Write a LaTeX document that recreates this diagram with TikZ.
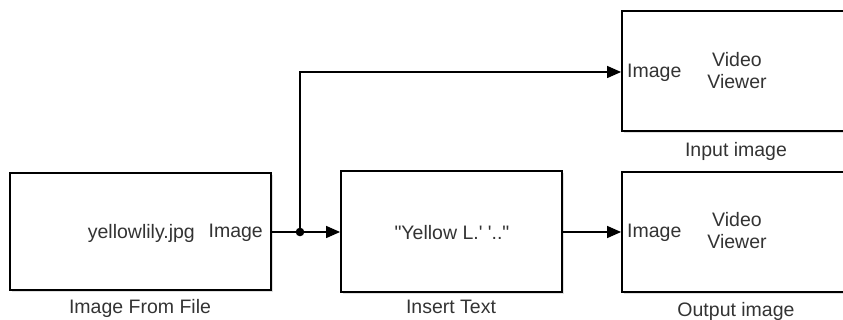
\documentclass[tikz,border=0pt]{standalone}
\usepackage{fontspec}
\setmainfont{Liberation Sans}[Ligatures=TeXOff]
\usetikzlibrary{arrows.meta,shadows}
\definecolor{txt}{HTML}{333333}
\begin{document}
\begin{tikzpicture}[x=1pt,y=-1pt,
  blk/.style={draw=black,line width=1.8pt,fill=white,inner sep=0pt,
    drop shadow={shadow xshift=2pt,shadow yshift=-2.5pt,opacity=0.25,fill=gray}},
  lbl/.style={text=txt,font=\fontsize{19.5}{22}\selectfont,inner sep=0pt},
  wire/.style={line width=1.3pt,draw=black},
  arr/.style={wire,-{Triangle[length=14pt,width=12pt]}}]
\useasboundingbox (0,0) rectangle (843,320);
% blocks
\node[blk,minimum width=261pt,minimum height=117pt] (src) at (140.5,231.5) {};
\node[blk,minimum width=221pt,minimum height=121pt] (ins) at (451.5,231.5) {};
\node[blk,minimum width=226pt,minimum height=120pt] (vin) at (735,71) {};
\node[blk,minimum width=226pt,minimum height=120pt] (vout) at (735,232) {};
% block texts
\node[lbl,anchor=east] (fname) at (195,233) {yellowlily.jpg};
\node[lbl,anchor=east] (srcport) at (263,233) {Image};
\node[lbl] (instxt) at (452,233) {"Yellow L.' '.."};
\node[lbl,anchor=west] (vinport) at (627,73) {Image};
\node[lbl,align=center] (vintxt) at (737,71) {Video\\Viewer};
\node[lbl,anchor=west] (voutport) at (627,233) {Image};
\node[lbl,align=center] (vouttxt) at (737,231) {Video\\Viewer};
% captions
\node[lbl] (capsrc) at (140,308) {Image From File};
\node[lbl] (capins) at (451,307) {Insert Text};
\node[lbl] (capvin) at (736,151) {Input image};
\node[lbl] (capvout) at (736,311) {Output image};
% wires
\coordinate (br) at (300,232);
\draw[wire] (src.east |- br) -- (br);
\draw[arr] (br) -- (ins.west |- br);
\draw[arr] (br) |- (vin.west |- 0,72);
\draw[arr] (ins.east |- 0,232) -- (vout.west |- 0,232);
\fill (br) circle (4.3pt);
\end{tikzpicture}
\end{document}
